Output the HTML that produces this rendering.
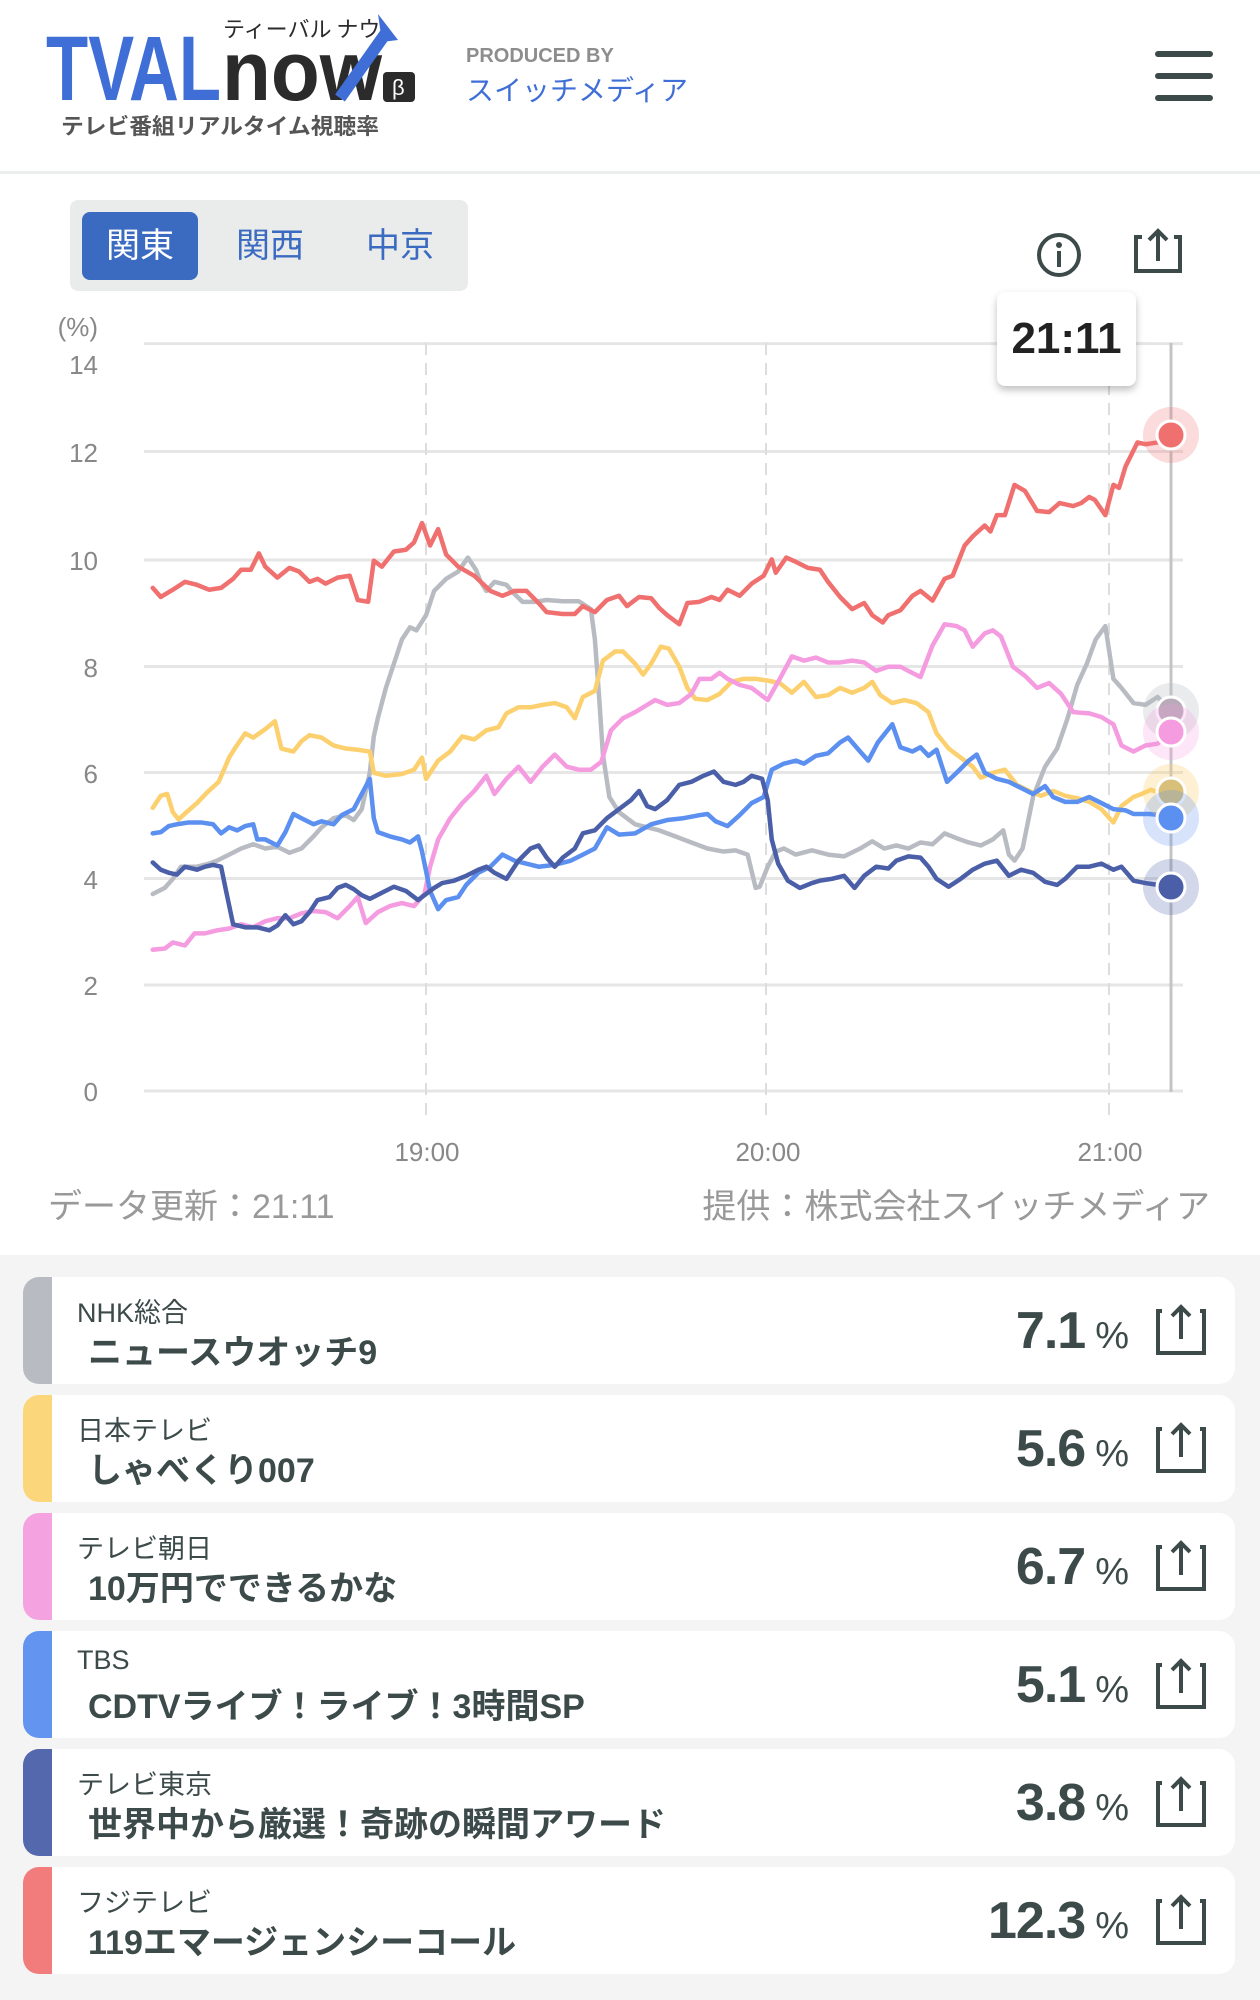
<!DOCTYPE html>
<html><head><meta charset="utf-8">
<style>
*{margin:0;padding:0;box-sizing:border-box}
body{width:1260px;height:2000px;background:#fff;font-family:"Liberation Sans","Noto Sans CJK JP",sans-serif;position:relative;overflow:hidden;color:#3d4a4a}
.abs{position:absolute}
.hdrline{left:0;top:171px;width:1260px;height:3px;background:#eceeee}
.tabs{left:70px;top:200px;width:398px;height:91px;background:#eaebeb;border-radius:8px}
.tab{top:212px;height:68px;width:116px;border-radius:8px;font-size:34px;color:#3a6bc0;text-align:center;line-height:68px}
.gray{left:0;top:1255px;width:1260px;height:745px;background:#f4f4f4}
.card{left:23px;width:1212px;height:107px;background:#fff;border-radius:16px;overflow:hidden}
.bar{position:absolute;left:0;top:0;width:29px;height:100%}
.st{position:absolute;left:54px;top:14px;font-size:27px;color:#3d4a4a}
.ti{position:absolute;left:65px;top:48px;font-size:34px;font-weight:bold;color:#3d4a4a}
.val{position:absolute;right:107px;top:24px;font-size:52px;font-weight:bold;color:#3d4a4a;letter-spacing:-1px}
.val span{font-size:38px;font-weight:normal;margin-left:10px}
.sh{position:absolute;left:1125px;top:26px}
</style></head><body>
<svg class="abs" style="left:0;top:0" width="1260" height="172">
<text x="46" y="100" font-family="Liberation Sans" font-weight="bold" font-size="92" fill="#3f6fd6" textLength="175" lengthAdjust="spacingAndGlyphs">TVAL</text>
<text x="222" y="100" font-family="Liberation Sans" font-weight="bold" font-size="84" fill="#2b2b2b" textLength="160" lengthAdjust="spacingAndGlyphs">now</text>
<path d="M340 98 L388 30" stroke="#3f6fd6" stroke-width="12"/>
<path d="M378 14 L398 40 L382 42 Z" fill="#3f6fd6"/>
<rect x="383" y="72" width="32" height="30" rx="4" fill="#2b2b2b"/>
<text x="392" y="95" font-size="22" fill="#fff">β</text>
<text x="223" y="37" font-family="Noto Sans CJK JP" font-size="22" fill="#2b2b2b">ティーバル ナウ</text>
<text x="61" y="134" font-family="Noto Sans CJK JP" font-weight="bold" font-size="22" fill="#555" textLength="318" lengthAdjust="spacingAndGlyphs">テレビ番組リアルタイム視聴率</text>
<text x="466" y="62" font-family="Liberation Sans" font-weight="bold" font-size="20" fill="#8d8d8d">PRODUCED BY</text>
<text x="466" y="100" font-family="Noto Sans CJK JP" font-size="28" fill="#3f6fd6">スイッチメディア</text>
<rect x="1155" y="51" width="58" height="6" rx="3" fill="#3d4a4a"/>
<rect x="1155" y="73" width="58" height="6" rx="3" fill="#3d4a4a"/>
<rect x="1155" y="95" width="58" height="6" rx="3" fill="#3d4a4a"/>
</svg>
<div class="abs hdrline"></div>
<div class="abs tabs"></div>
<div class="abs tab" style="left:82px;background:#3a6bc0;color:#fff">関東</div>
<div class="abs tab" style="left:212px">関西</div>
<div class="abs tab" style="left:342px">中京</div>
<svg class="abs" style="left:1030px;top:225px" width="200" height="60">
<circle cx="29" cy="30" r="20" fill="none" stroke="#3d4a4a" stroke-width="4"/>
<circle cx="29" cy="20" r="3" fill="#3d4a4a"/><rect x="27" y="26" width="4" height="16" fill="#3d4a4a"/>
<path d="M112 12 H106 V46 H150 V12 H144" fill="none" stroke="#3d4a4a" stroke-width="4"/>
<path d="M128 36 V6 M119 15 L128 6 L137 15" fill="none" stroke="#3d4a4a" stroke-width="4"/>
</svg>

<svg class="abs" style="left:0;top:300px" width="1260" height="955">
<g stroke="#e6e6e6" stroke-width="3">
<line x1="144" y1="43.6" x2="1183" y2="43.6"/><line x1="144" y1="151.5" x2="1183" y2="151.5"/><line x1="144" y1="260" x2="1183" y2="260"/><line x1="144" y1="366.5" x2="1183" y2="366.5"/><line x1="144" y1="472.5" x2="1183" y2="472.5"/><line x1="144" y1="578.5" x2="1183" y2="578.5"/><line x1="144" y1="685" x2="1183" y2="685"/><line x1="144" y1="791" x2="1183" y2="791"/>
</g>
<g stroke="#dddddd" stroke-width="2" stroke-dasharray="12,8">
<line x1="426" y1="43" x2="426" y2="820"/><line x1="766" y1="43" x2="766" y2="820"/><line x1="1109" y1="43" x2="1109" y2="820"/>
</g>
<line x1="1171" y1="43" x2="1171" y2="792" stroke="#c4c4c4" stroke-width="3"/>
<g fill="#888" font-size="26" text-anchor="end" font-family="Liberation Sans">
<text x="98" y="36">(%)</text>
<text x="98" y="74">14</text><text x="98" y="162">12</text><text x="98" y="270">10</text><text x="98" y="377">8</text><text x="98" y="483">6</text><text x="98" y="589">4</text><text x="98" y="695">2</text><text x="98" y="801">0</text>
</g>
<g fill="#888" font-size="26" text-anchor="middle"><text x="427" y="861">19:00</text><text x="768" y="861">20:00</text><text x="1110" y="861">21:00</text></g>
<text x="48" y="918" font-size="34" fill="#999" font-family="Liberation Sans, Noto Sans CJK JP, sans-serif">データ更新：21:11</text>
<text x="1210" y="918" font-size="34" fill="#999" text-anchor="end" font-family="Liberation Sans, Noto Sans CJK JP, sans-serif">提供：株式会社スイッチメディア</text>
<g transform="scale(0.8039,0.6061)" fill="none" stroke-width="4.5" stroke-linejoin="round" stroke-linecap="round">
<polyline vector-effect="non-scaling-stroke" stroke="#b8bcc2" points="190,980 205,970 215,955 225,935 245,935 260,930 270,925 285,915 300,905 315,898 330,905 345,902 360,912 375,905 390,885 400,870 415,855 430,850 440,858 450,840 460,780 465,720 470,690 480,640 490,600 500,560 510,540 518,545 530,520 540,480 555,460 570,448 582,425 592,445 598,465 605,480 615,465 630,470 640,485 650,498 665,498 680,495 700,497 720,497 735,510 740,560 745,650 750,750 758,820 770,845 790,865 820,875 840,885 860,895 880,905 900,910 915,908 930,915 940,970 945,968 955,935 965,910 975,905 990,915 1010,908 1030,915 1050,918 1070,905 1085,893 1100,905 1115,900 1130,905 1145,895 1160,898 1175,880 1190,888 1205,895 1220,900 1235,890 1248,875 1255,915 1262,925 1272,905 1285,820 1300,770 1315,740 1328,690 1340,635 1352,600 1363,560 1375,538 1385,625 1395,640 1410,665 1425,668 1440,655 1458,680"/>
<polyline vector-effect="non-scaling-stroke" stroke="#fcd06e" points="190,838 200,818 208,815 215,845 222,857 232,845 245,830 258,812 272,795 285,755 292,740 305,715 315,722 330,708 342,695 350,740 365,745 375,728 385,718 400,722 415,735 430,740 445,742 460,745 465,780 480,785 500,782 515,775 525,755 530,790 545,760 560,745 575,720 590,725 605,710 620,705 630,682 645,672 660,672 675,668 690,665 705,672 715,690 725,655 740,645 750,595 765,580 775,580 790,600 800,618 810,600 822,572 832,575 845,605 855,640 865,658 880,660 895,650 910,630 925,625 940,625 955,628 970,632 985,648 1000,630 1015,655 1030,652 1045,640 1060,648 1075,640 1085,630 1095,652 1110,665 1125,660 1140,665 1155,680 1165,715 1180,740 1195,755 1210,770 1220,788 1235,780 1250,775 1265,800 1280,810 1295,818 1310,810 1325,818 1340,822 1355,828 1370,840 1385,862 1395,835 1410,820 1420,815 1432,808 1445,815 1458,810"/>
<polyline vector-effect="non-scaling-stroke" stroke="#f59be0" points="190,1072 205,1070 215,1060 230,1065 242,1045 255,1045 270,1040 285,1037 300,1030 315,1035 330,1025 345,1020 360,1020 375,1012 390,1008 405,1010 420,1020 435,1000 445,985 455,1028 470,1010 485,1000 500,995 515,1000 528,980 535,935 545,890 560,855 575,830 590,810 605,785 615,815 630,790 645,770 660,795 675,770 690,750 705,770 720,775 735,775 748,762 760,710 775,690 790,680 805,668 815,660 830,668 845,665 860,650 870,625 885,625 895,615 905,625 920,635 935,640 955,660 970,625 985,588 1000,595 1015,590 1030,598 1045,598 1060,595 1075,598 1090,612 1105,605 1120,605 1130,612 1145,622 1160,570 1175,535 1190,538 1200,545 1210,572 1225,550 1235,545 1245,555 1260,605 1275,620 1290,640 1305,632 1320,650 1335,680 1355,682 1370,688 1385,700 1395,735 1410,745 1425,735 1440,732 1458,712"/>
<polyline vector-effect="non-scaling-stroke" stroke="#5b8ff0" points="190,880 200,878 210,868 220,865 235,862 250,862 265,865 275,880 285,870 295,875 305,868 315,865 320,890 330,890 345,900 355,878 365,848 375,855 390,865 400,860 415,865 425,850 440,840 450,815 460,790 465,855 470,878 485,885 500,890 510,895 520,885 525,910 535,975 545,1005 555,990 570,985 580,965 595,945 610,935 625,915 640,925 655,930 670,935 690,932 710,925 725,915 740,905 755,870 770,882 790,880 810,865 830,858 850,855 870,850 880,848 890,860 905,868 920,850 935,830 950,820 960,775 975,765 990,760 1000,765 1015,752 1030,748 1045,730 1055,722 1068,742 1080,760 1092,730 1110,700 1120,738 1135,745 1145,738 1155,752 1165,742 1178,795 1190,780 1205,760 1215,750 1225,780 1240,790 1255,795 1270,805 1285,815 1300,802 1310,820 1325,828 1340,828 1355,820 1370,830 1385,840 1400,842 1410,848 1430,848 1445,850 1458,855"/>
<polyline vector-effect="non-scaling-stroke" stroke="#4a5fa8" points="190,928 200,940 210,945 220,948 230,935 245,940 255,935 265,932 275,935 282,980 290,1030 305,1035 320,1035 335,1040 345,1032 355,1015 365,1030 375,1025 385,1010 395,990 410,985 420,970 430,965 440,972 450,982 460,988 475,978 490,968 505,975 520,990 530,980 540,970 550,962 565,958 580,950 595,940 605,935 615,945 630,955 645,925 660,905 670,900 680,920 690,935 700,920 715,905 725,880 740,875 755,855 770,840 785,825 795,810 805,835 815,840 830,825 845,800 860,795 875,785 888,778 900,795 915,800 925,795 935,785 948,790 955,825 960,890 968,930 980,958 995,970 1010,962 1020,958 1035,955 1050,950 1063,970 1075,950 1090,935 1105,938 1115,925 1130,918 1145,920 1155,935 1165,955 1180,968 1195,955 1210,940 1225,930 1240,925 1255,950 1270,940 1285,945 1300,960 1315,965 1325,955 1340,935 1355,935 1370,930 1385,940 1395,935 1410,958 1425,962 1440,965 1458,970"/>
<polyline vector-effect="non-scaling-stroke" stroke="#f07070" points="190,475 200,490 215,478 230,465 245,470 260,478 275,475 290,460 300,445 312,445 322,418 330,440 345,458 360,442 372,448 385,465 395,460 405,468 420,458 435,455 445,495 458,498 465,430 475,440 490,415 505,412 515,400 525,368 535,405 545,378 555,420 570,440 590,455 610,480 625,488 640,480 655,480 670,500 680,515 700,518 715,518 725,505 740,515 755,495 770,488 780,505 795,490 810,492 820,508 830,520 845,535 855,500 870,498 885,490 895,495 905,478 920,488 935,468 950,455 960,428 965,450 978,425 990,432 1005,442 1020,445 1030,465 1045,490 1060,510 1075,500 1085,520 1098,532 1105,520 1120,512 1135,488 1145,480 1160,496 1175,460 1185,455 1200,405 1210,390 1225,372 1232,382 1240,355 1250,355 1262,305 1275,315 1290,348 1305,350 1318,335 1335,340 1345,335 1355,325 1362,330 1375,355 1385,305 1392,310 1400,275 1415,235 1425,238 1440,235 1458,225"/>
</g>
<g stroke="#fff" stroke-width="3">
<circle cx="1171" cy="411" r="28" fill="#b8bcc2" fill-opacity="0.3" stroke="none"/><circle cx="1171" cy="411" r="14" fill="#b8aab8"/>
<circle cx="1171" cy="432" r="28" fill="#f59be0" fill-opacity="0.25" stroke="none"/><circle cx="1171" cy="432" r="14" fill="#f59be0"/>
<circle cx="1171" cy="492" r="28" fill="#fcd06e" fill-opacity="0.3" stroke="none"/><circle cx="1171" cy="492" r="14" fill="#d9c07a"/>
<circle cx="1171" cy="518" r="28" fill="#5b8ff0" fill-opacity="0.25" stroke="none"/><circle cx="1171" cy="518" r="14" fill="#5b8ff0"/>
<circle cx="1171" cy="587" r="28" fill="#4a5fa8" fill-opacity="0.25" stroke="none"/><circle cx="1171" cy="587" r="14" fill="#4a5fa8"/>
<circle cx="1171" cy="135" r="28" fill="#f07070" fill-opacity="0.25" stroke="none"/><circle cx="1171" cy="135" r="14" fill="#f07070"/>
</g>
</svg>
<div class="abs" style="left:997px;top:292px;width:139px;height:94px;background:#fff;border-radius:8px;box-shadow:0 4px 8px rgba(0,0,0,0.25);font-size:44px;font-weight:bold;color:#222;text-align:center;line-height:94px">21:11</div>

<div class="abs gray"></div>
<div class="abs card" style="top:1277px"><div class="bar" style="background:#b8bcc2"></div><div class="st">NHK総合</div><div class="ti">ニュースウオッチ9</div><div class="val">7.1<span>%</span></div><svg class="sh" width="60" height="60"><path d="M14 8 H10 V50 H56 V8 H52" fill="none" stroke="#3d4a4a" stroke-width="4"/><path d="M33 36 V4 M24 13 L33 4 L42 13" fill="none" stroke="#3d4a4a" stroke-width="4"/></svg></div>
<div class="abs card" style="top:1395px"><div class="bar" style="background:#fcd67a"></div><div class="st">日本テレビ</div><div class="ti">しゃべくり007</div><div class="val">5.6<span>%</span></div><svg class="sh" width="60" height="60"><path d="M14 8 H10 V50 H56 V8 H52" fill="none" stroke="#3d4a4a" stroke-width="4"/><path d="M33 36 V4 M24 13 L33 4 L42 13" fill="none" stroke="#3d4a4a" stroke-width="4"/></svg></div>
<div class="abs card" style="top:1513px"><div class="bar" style="background:#f5a3e0"></div><div class="st">テレビ朝日</div><div class="ti">10万円でできるかな</div><div class="val">6.7<span>%</span></div><svg class="sh" width="60" height="60"><path d="M14 8 H10 V50 H56 V8 H52" fill="none" stroke="#3d4a4a" stroke-width="4"/><path d="M33 36 V4 M24 13 L33 4 L42 13" fill="none" stroke="#3d4a4a" stroke-width="4"/></svg></div>
<div class="abs card" style="top:1631px"><div class="bar" style="background:#6395f0"></div><div class="st">TBS</div><div class="ti">CDTVライブ！ライブ！3時間SP</div><div class="val">5.1<span>%</span></div><svg class="sh" width="60" height="60"><path d="M14 8 H10 V50 H56 V8 H52" fill="none" stroke="#3d4a4a" stroke-width="4"/><path d="M33 36 V4 M24 13 L33 4 L42 13" fill="none" stroke="#3d4a4a" stroke-width="4"/></svg></div>
<div class="abs card" style="top:1749px"><div class="bar" style="background:#5468ad"></div><div class="st">テレビ東京</div><div class="ti">世界中から厳選！奇跡の瞬間アワード</div><div class="val">3.8<span>%</span></div><svg class="sh" width="60" height="60"><path d="M14 8 H10 V50 H56 V8 H52" fill="none" stroke="#3d4a4a" stroke-width="4"/><path d="M33 36 V4 M24 13 L33 4 L42 13" fill="none" stroke="#3d4a4a" stroke-width="4"/></svg></div>
<div class="abs card" style="top:1867px"><div class="bar" style="background:#f27b7b"></div><div class="st">フジテレビ</div><div class="ti">119エマージェンシーコール</div><div class="val">12.3<span>%</span></div><svg class="sh" width="60" height="60"><path d="M14 8 H10 V50 H56 V8 H52" fill="none" stroke="#3d4a4a" stroke-width="4"/><path d="M33 36 V4 M24 13 L33 4 L42 13" fill="none" stroke="#3d4a4a" stroke-width="4"/></svg></div>
</body></html>
